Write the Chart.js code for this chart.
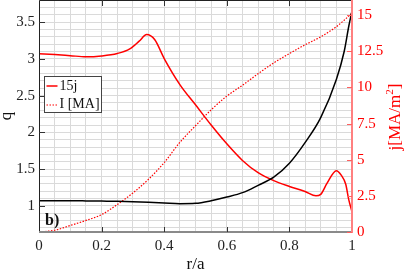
<!DOCTYPE html>
<html lang="en">
<head>
  <meta charset="UTF-8" />
  <title>q, j and I profiles</title>
  <script src="https://cdn.jsdelivr.net/npm/chart.js"></script>
  <style>
    html, body { margin: 0; padding: 0; background: #fff; }
    #wrap { width: 407px; height: 275px; }
  </style>
</head>
<body>
  <div id="wrap"><canvas id="profileChart"></canvas></div>

  <script>
    // safety factor q (left axis)
    const rQ = [0, 0.05, 0.1, 0.15, 0.2, 0.25, 0.3, 0.35, 0.4, 0.45, 0.5, 0.55, 0.6, 0.65, 0.7, 0.75, 0.8, 0.85, 0.9, 0.95, 0.975, 0.99, 1.0];
    const qVals = [1.07, 1.07, 1.07, 1.068, 1.065, 1.062, 1.057, 1.05, 1.04, 1.03, 1.035, 1.07, 1.12, 1.18, 1.28, 1.39, 1.58, 1.86, 2.2, 2.72, 3.1, 3.45, 3.65];

    // 15j (right axis)
    const rJ = [0, 0.05, 0.1, 0.15, 0.2, 0.25, 0.29, 0.32, 0.344, 0.37, 0.4, 0.45, 0.5, 0.55, 0.6, 0.65, 0.7, 0.75, 0.8, 0.85, 0.885, 0.9, 0.92, 0.95, 0.965, 0.98, 0.99, 1.0];
    const jVals = [12.34, 12.28, 12.2, 12.12, 12.18, 12.35, 12.67, 13.2, 13.66, 13.3, 12.0, 10.2, 8.8, 7.4, 6.1, 4.95, 4.1, 3.55, 3.15, 2.8, 2.5, 2.6, 3.36, 4.24, 3.95, 3.3, 2.2, 1.4];

    // plasma current I [MA] (right axis)
    const rI = [0, 0.05, 0.1, 0.15, 0.2, 0.25, 0.3, 0.35, 0.4, 0.45, 0.5, 0.55, 0.6, 0.65, 0.7, 0.75, 0.8, 0.85, 0.9, 0.93, 0.95, 0.975, 1.0];
    const iVals = [0, 0.12, 0.45, 0.8, 1.2, 1.9, 2.7, 3.65, 4.8, 6.2, 7.35, 8.45, 9.4, 10.15, 10.95, 11.7, 12.35, 12.95, 13.5, 13.9, 14.2, 14.65, 15.15];

    const xTicks = [0, 0.2, 0.4, 0.6, 0.8, 1];
    const xTickLabels = ['0', '0.2', '0.4', '0.6', '0.8', '1'];
    const qTicks = [1, 1.5, 2, 2.5, 3, 3.5];
    const qTickLabels = ['1', '1.5', '2', '2.5', '3', '3.5'];
    const jTicks = [0, 2.5, 5, 7.5, 10, 12.5, 15];
    const jTickLabels = ['0', '2.5', '5', '7.5', '10', '12.5', '15'];

    const RED = '#ff0000';
    const SERIF = "'Liberation Serif', 'DejaVu Serif', serif";

    // light grid every 0.05 in r and 0.1 in q
    const xGrid = [];
    for (let i = 0; i <= 20; i++) xGrid.push(i / 20);
    const qGrid = [];
    for (let i = 7; i <= 37; i++) qGrid.push(i / 10);

    function labelFor(ticks, labels) {
      return value => {
        const i = ticks.findIndex(t => Math.abs(t - value) < 1e-6);
        return i >= 0 ? labels[i] : '';
      };
    }

    const toPoints = (xs, ys) => xs.map((x, i) => ({ x, y: ys[i] }));

    function fixBox(s, size) {
      if (s.isHorizontal()) s.height = size; else s.width = size;
      s.paddingTop = 0;
      s.paddingBottom = 0;
      s.paddingLeft = 0;
      s.paddingRight = 0;
    }

    // frame, inward tick marks, legend box, axis titles
    const framePlugin = {
      id: 'frame',
      afterDraw(chart) {
        const { ctx, chartArea: a, scales } = chart;
        ctx.save();

        // axis lines
        ctx.lineWidth = 1;
        ctx.strokeStyle = '#222';
        ctx.beginPath();
        ctx.moveTo(a.left + 0.5, a.bottom);
        ctx.lineTo(a.left + 0.5, a.top + 0.5);
        ctx.lineTo(a.right, a.top + 0.5);
        ctx.stroke();

        ctx.lineWidth = 2;
        ctx.strokeStyle = '#8a8a8a';
        ctx.beginPath();
        ctx.moveTo(a.left, a.bottom);
        ctx.lineTo(a.right, a.bottom);
        ctx.stroke();

        ctx.strokeStyle = '#ff8080';
        ctx.beginPath();
        ctx.moveTo(a.right, a.top);
        ctx.lineTo(a.right, a.bottom + 1);
        ctx.stroke();

        // tick marks
        ctx.lineWidth = 1;
        ctx.strokeStyle = '#333';
        ctx.beginPath();
        xTicks.forEach(v => {
          const px = Math.round(scales.x.getPixelForValue(v)) + 0.5;
          if (v > 0 && v < 1) {
            ctx.moveTo(px, a.bottom);
            ctx.lineTo(px, a.bottom - 5);
            ctx.moveTo(px, a.top);
            ctx.lineTo(px, a.top + 6);
          }
        });
        qTicks.forEach(v => {
          const py = Math.round(scales.y.getPixelForValue(v)) + 0.5;
          ctx.moveTo(a.left, py);
          ctx.lineTo(a.left + 6, py);
        });
        ctx.stroke();

        ctx.strokeStyle = '#ff6060';
        ctx.beginPath();
        jTicks.forEach(v => {
          const py = Math.round(scales.y1.getPixelForValue(v)) + 0.5;
          ctx.moveTo(a.right, py);
          ctx.lineTo(a.right - 5, py);
        });
        ctx.stroke();

        // legend
        const lx = 44.5, ly = 76.5, lw = 57, lh = 36;
        ctx.fillStyle = '#fff';
        ctx.fillRect(lx, ly, lw, lh);
        ctx.strokeStyle = '#444';
        ctx.lineWidth = 1;
        ctx.strokeRect(lx, ly, lw, lh);

        ctx.strokeStyle = RED;
        ctx.lineWidth = 1.5;
        ctx.beginPath();
        ctx.moveTo(lx + 2, 86);
        ctx.lineTo(lx + 13, 86);
        ctx.stroke();
        ctx.lineWidth = 1.2;
        ctx.setLineDash([1.5, 1.5]);
        ctx.beginPath();
        ctx.moveTo(lx + 2, 105);
        ctx.lineTo(lx + 13, 105);
        ctx.stroke();
        ctx.setLineDash([]);

        ctx.fillStyle = '#111';
        ctx.font = '14px ' + SERIF;
        ctx.textAlign = 'left';
        ctx.textBaseline = 'middle';
        ctx.fillText(chart.data.datasets[1].label, lx + 15, 86);
        ctx.fillText(chart.data.datasets[2].label, lx + 15, 104);

        // panel tag
        ctx.font = 'bold 16px ' + SERIF;
        ctx.fillStyle = '#111';
        ctx.fillText('b)', 45, 221);

        // x title
        ctx.font = '17px ' + SERIF;
        ctx.textAlign = 'center';
        ctx.fillText('r/a', (a.left + a.right) / 2, 265);

        // left title
        ctx.save();
        ctx.translate(7, (a.top + a.bottom) / 2);
        ctx.rotate(-Math.PI / 2);
        ctx.font = '17px ' + SERIF;
        ctx.fillText('q', 0, 0);
        ctx.restore();

        // right title
        ctx.save();
        ctx.translate(396, 117);
        ctx.rotate(-Math.PI / 2);
        ctx.fillStyle = RED;
        ctx.font = '17px ' + SERIF;
        const main = 'j[MA/m';
        const sup = '2';
        const tail = ']';
        ctx.textAlign = 'left';
        const w1 = ctx.measureText(main).width;
        const w3 = ctx.measureText(tail).width;
        ctx.font = '11px ' + SERIF;
        const w2 = ctx.measureText(sup).width;
        const start = -(w1 + w2 + w3) / 2;
        ctx.font = '17px ' + SERIF;
        ctx.fillText(main, start, 0);
        ctx.font = '11px ' + SERIF;
        ctx.fillText(sup, start + w1, -6);
        ctx.font = '17px ' + SERIF;
        ctx.fillText(tail, start + w1 + w2, 0);
        ctx.restore();

        ctx.restore();
      }
    };

    new Chart(document.getElementById('profileChart'), {
      type: 'line',
      data: {
        datasets: [
          {
            label: 'q',
            data: toPoints(rQ, qVals),
            yAxisID: 'y',
            borderColor: '#000',
            borderWidth: 1.5,
            pointRadius: 0,
            cubicInterpolationMode: 'monotone'
          },
          {
            label: '15j',
            data: toPoints(rJ, jVals),
            yAxisID: 'y1',
            borderColor: RED,
            borderWidth: 1.5,
            pointRadius: 0,
            cubicInterpolationMode: 'monotone'
          },
          {
            label: 'I [MA]',
            data: toPoints(rI, iVals),
            yAxisID: 'y1',
            borderColor: RED,
            borderWidth: 1.2,
            borderDash: [1.5, 1.5],
            pointRadius: 0,
            cubicInterpolationMode: 'monotone'
          }
        ]
      },
      options: {
        responsive: true,
        maintainAspectRatio: false,
        animation: false,
        layout: { padding: 0 },
        plugins: {
          legend: { display: false },
          tooltip: { enabled: false }
        },
        scales: {
          x: {
            type: 'linear',
            min: 0,
            max: 1,
            afterBuildTicks: s => { s.ticks = xGrid.map(v => ({ value: v })); },
            afterFit: s => fixBox(s, 43),
            grid: { color: '#dadada', drawTicks: false },
            border: { display: false },
            ticks: {
              autoSkip: false,
              maxRotation: 0,
              padding: 5,
              color: '#222',
              font: { family: SERIF, size: 15 },
              callback: labelFor(xTicks, xTickLabels)
            }
          },
          y: {
            position: 'left',
            min: 0.645,
            max: 3.8,
            afterBuildTicks: s => { s.ticks = qGrid.map(v => ({ value: v })); },
            afterFit: s => fixBox(s, 39),
            grid: { color: '#dadada', drawTicks: false },
            border: { display: false },
            ticks: {
              autoSkip: false,
              padding: 4,
              color: '#222',
              font: { family: SERIF, size: 15 },
              callback: labelFor(qTicks, qTickLabels)
            }
          },
          y1: {
            position: 'right',
            min: 0,
            max: 16.05,
            afterBuildTicks: s => { s.ticks = jTicks.map(v => ({ value: v })); },
            afterFit: s => fixBox(s, 55),
            grid: { display: false, drawTicks: false },
            border: { display: false },
            ticks: {
              autoSkip: false,
              padding: 5,
              color: RED,
              font: { family: SERIF, size: 15 },
              callback: labelFor(jTicks, jTickLabels)
            }
          }
        }
      },
      plugins: [framePlugin]
    });
  </script>
</body>
</html>
